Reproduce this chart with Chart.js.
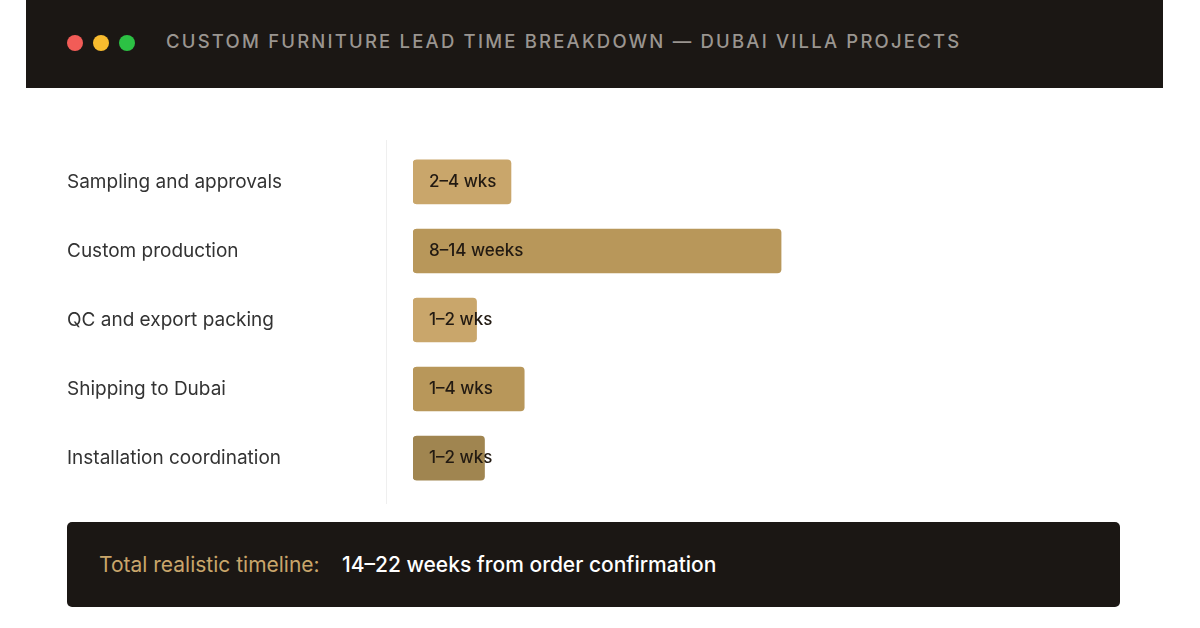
<!DOCTYPE html>
<html><head><meta charset="utf-8">
<script src="https://cdn.jsdelivr.net/npm/chart.js@4"></script>
<style>
body{margin:0;width:1200px;height:628px;background:#fff;font-family:Inter,"Noto Sans",sans-serif;position:relative;overflow:hidden}
#hdr{position:absolute;left:26px;top:0;width:1137px;height:88px;background:#1b1714}
.dot{position:absolute;top:35px;width:16px;height:16px;border-radius:50%}
#ttl{position:absolute;left:140px;top:30px;color:#9a9590;font-size:18.5px;letter-spacing:2.2px;font-weight:500}
#wrap{position:absolute;left:67px;top:136px;width:1053px;height:368px}
#foot{position:absolute;left:67px;top:522px;width:1053px;height:85px;background:#1b1714;border-radius:5px}
#foot span{position:absolute;top:30px;font-size:21px}
</style></head><body>
<div id="hdr">
<div class="dot" style="left:41px;background:#f25c57"></div>
<div class="dot" style="left:67px;background:#f8bb2e"></div>
<div class="dot" style="left:93px;background:#2cc144"></div>
<div id="ttl">CUSTOM FURNITURE LEAD TIME BREAKDOWN — DUBAI VILLA PROJECTS</div>
</div>
<div id="wrap"><canvas id="c"></canvas></div>
<div id="foot"><span style="left:32px;color:#c9a66b">Total realistic timeline:</span><span style="left:275px;color:#fff;font-weight:500">14–22 weeks from order confirmation</span></div>
<script>
const categories=["Sampling and approvals","Custom production","QC and export packing","Shipping to Dubai","Installation coordination"];
const values=[3.7,13.9,2.4,4.2,2.7];
const barLabels=["2–4 wks","8–14 weeks","1–2 wks","1–4 wks","1–2 wks"];
const colors=["#c9a66b","#b8975a","#c9a66b","#b8975a","#a08550"];
const inside={id:'inside',afterDatasetsDraw(ch){const ctx=ch.ctx;const m=ch.getDatasetMeta(0);
ctx.save();ctx.font='500 17px Inter, "Noto Sans", sans-serif';ctx.fillStyle='#221a12';ctx.textBaseline='middle';
m.data.forEach((b,i)=>{ctx.fillText(barLabels[i],b.base+16,b.y);});
ctx.strokeStyle='#efefef';ctx.lineWidth=1;ctx.beginPath();ctx.moveTo(319.5,4);ctx.lineTo(319.5,368);ctx.stroke();ctx.restore();}};
new Chart(document.getElementById('c'),{type:'bar',
data:{labels:categories,datasets:[{data:values,backgroundColor:colors,borderRadius:4,borderSkipped:false,barThickness:44}]},
options:{indexAxis:'y',responsive:true,maintainAspectRatio:false,animation:false,
layout:{padding:0},
plugins:{legend:{display:false},tooltip:{enabled:false}},
scales:{x:{min:0,max:26.7,display:false},
y:{grid:{display:false},border:{display:false},afterFit(s){s.width=346;},
ticks:{crossAlign:'far',padding:0,color:'#333',font:{size:19,family:'Inter, "Noto Sans", sans-serif'}}}}},
plugins:[inside]});
</script></body></html>
